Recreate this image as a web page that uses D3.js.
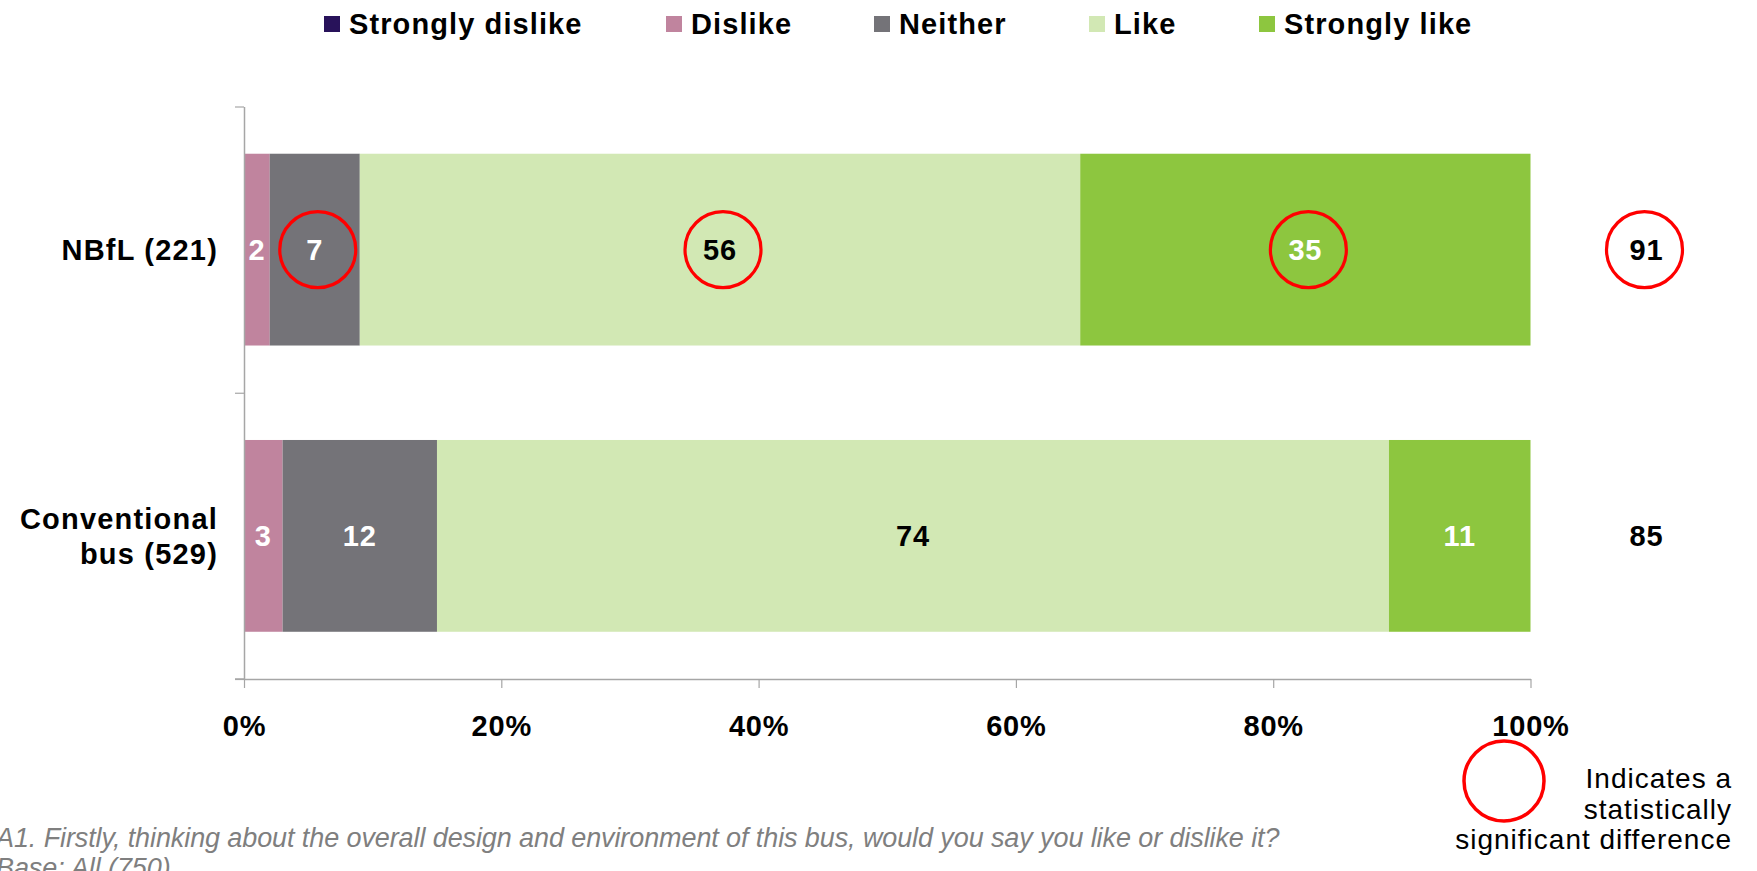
<!DOCTYPE html>
<html>
<head>
<meta charset="utf-8">
<script src="https://cdn.jsdelivr.net/npm/d3@7/dist/d3.min.js"></script>
<style>
  html, body { margin: 0; padding: 0; background: #fff; }
  svg { display: block; }
  text { font-family: "Liberation Sans", Arial, sans-serif; }
</style>
</head>
<body>
<svg id="chart" width="1757" height="871"></svg>
<script>
// Survey responses (%), one array per answer option
const categories = ["NBfL (221)", "Conventional bus (529)"];
const categoryLines = [["NBfL (221)"], ["Conventional", "bus (529)"]];
const seriesNames = ["Strongly dislike", "Dislike", "Neither", "Like", "Strongly like"];
const stronglyDislike = [0, 0];
const dislike = [2, 3];
const neither = [7, 12];
const like = [56, 74];
const stronglyLike = [35, 11];
// Net "like" totals shown to the right of each bar
const totals = [91, 85];
// Statistically significant differences, per series then total
const sigNeither = [true, false];
const sigLike = [true, false];
const sigStronglyLike = [true, false];
const sigTotal = [true, false];
const xTicks = [0, 20, 40, 60, 80, 100];
const xTickLabels = ["0%", "20%", "40%", "60%", "80%", "100%"];
const footnote = "A1. Firstly, thinking about the overall design and environment of this bus, would you say you like or dislike it?";
const baseNote = "Base: All (750)";
const sigLegend = ["Indicates a", "statistically", "significant difference"];

const colors = ["#28125a", "#c0849e", "#747378", "#d2e8b4", "#8dc63f"];
const labelColors = ["#fff", "#fff", "#fff", "#000", "#fff"];

const seriesValues = [stronglyDislike, dislike, neither, like, stronglyLike];
const seriesSig = [[false, false], [false, false], sigNeither, sigLike, sigStronglyLike];

const rows = categories.map((c, i) => {
  const r = { category: c };
  seriesNames.forEach((s, j) => { r[s] = seriesValues[j][i]; });
  return r;
});
const stacked = d3.stack().keys(seriesNames)(rows);

const svg = d3.select("#chart");

const plot = { left: 244, right: 1530.5, top: 106.5, bottom: 679 };

const x = d3.scaleLinear().domain([0, 100]).range([plot.left, plot.right]);
const y = d3.scaleBand().domain(categories).range([plot.top, plot.bottom])
  .paddingInner(0.33).paddingOuter(0.165);
const yEdges = d3.scaleLinear().domain([0, categories.length]).range([plot.top, plot.bottom]);

const BOLD = "bold";
const FS = 29;

// Bars
const layers = svg.append("g").selectAll("g").data(stacked).join("g")
  .attr("fill", (d, i) => colors[i]);
layers.selectAll("rect").data(d => d).join("rect")
  .attr("x", d => x(d[0]))
  .attr("y", (d, i) => y(categories[i]))
  .attr("width", d => x(d[1]) - x(d[0]))
  .attr("height", y.bandwidth());

// Axes
const axisColor = "#a6a6a6";
const yAxis = svg.append("g")
  .attr("transform", `translate(${plot.left},0)`)
  .call(d3.axisLeft(yEdges).tickValues(d3.range(categories.length + 1)).tickFormat("").tickSize(9).tickSizeOuter(0));
const xAxis = svg.append("g")
  .attr("transform", `translate(0,${plot.bottom})`)
  .call(d3.axisBottom(x).tickValues(xTicks).tickFormat((d, i) => xTickLabels[i]).tickSize(9).tickSizeOuter(0).tickPadding(27));
[yAxis, xAxis].forEach(a => {
  a.selectAll("path.domain").attr("stroke", axisColor).attr("stroke-width", 1.5);
  a.selectAll(".tick line").attr("stroke", axisColor).attr("stroke-width", 1.2);
});
xAxis.selectAll(".tick text")
  .attr("font-size", FS).attr("font-weight", BOLD).attr("fill", "#000")
  .attr("font-family", "Liberation Sans, Arial, sans-serif")
  .attr("letter-spacing", 0.8);
// extend the baseline to meet the lower y tick
xAxis.append("line").attr("x1", plot.left - 9).attr("x2", plot.left)
  .attr("stroke", axisColor).attr("stroke-width", 1.5);

// Category labels
categories.forEach((c, i) => {
  const lines = categoryLines[i];
  const cy = y(c) + y.bandwidth() / 2;
  const lh = 35.5;
  const t = svg.append("text")
    .attr("text-anchor", "end")
    .attr("font-size", FS).attr("font-weight", BOLD)
    .attr("letter-spacing", 1.2);
  lines.forEach((ln, k) => {
    t.append("tspan").attr("x", plot.left - 26)
      .attr("y", cy + (k - (lines.length - 1) / 2) * lh)
      .attr("dy", "0.36em").text(ln);
  });
});

// Segment value labels and significance rings
const RING = 38;
stacked.forEach((layer, j) => {
  layer.forEach((d, i) => {
    const v = d[1] - d[0];
    if (v <= 0) return;
    const cx = x((d[0] + d[1]) / 2);
    const cy = y(categories[i]) + y.bandwidth() / 2;
    svg.append("text")
      .attr("x", cx).attr("y", cy).attr("dy", "0.36em")
      .attr("text-anchor", "middle")
      .attr("font-size", FS).attr("font-weight", BOLD)
      .attr("letter-spacing", 0.8)
      .attr("fill", labelColors[j])
      .text(v);
    if (seriesSig[j][i]) {
      svg.append("circle").attr("cx", cx + 3).attr("cy", cy).attr("r", RING)
        .attr("fill", "none").attr("stroke", "#ff0000").attr("stroke-width", 3.2);
    }
  });
});

// Totals
totals.forEach((t, i) => {
  const cx = x(100) + 116;
  const cy = y(categories[i]) + y.bandwidth() / 2;
  svg.append("text").attr("x", cx).attr("y", cy).attr("dy", "0.36em")
    .attr("text-anchor", "middle")
    .attr("font-size", FS).attr("font-weight", BOLD).attr("letter-spacing", 0.8)
    .attr("fill", "#000").text(t);
  if (sigTotal[i]) {
    svg.append("circle").attr("cx", cx - 2).attr("cy", cy).attr("r", RING)
      .attr("fill", "none").attr("stroke", "#ff0000").attr("stroke-width", 3.2);
  }
});

// Legend
const legendX = [324, 666, 874, 1089, 1259];
const legend = svg.append("g");
seriesNames.forEach((s, i) => {
  legend.append("rect").attr("x", legendX[i]).attr("y", 16).attr("width", 16).attr("height", 16)
    .attr("fill", colors[i]);
  legend.append("text").attr("x", legendX[i] + 25).attr("y", 34)
    .attr("font-size", FS).attr("font-weight", BOLD).attr("letter-spacing", 1.1)
    .text(s);
});

// Significance key
svg.append("circle").attr("cx", 1504).attr("cy", 781).attr("r", 40)
  .attr("fill", "none").attr("stroke", "#ff0000").attr("stroke-width", 3.5);
sigLegend.forEach((ln, k) => {
  svg.append("text").attr("x", 1732).attr("y", 788 + k * 30.5)
    .attr("text-anchor", "end").attr("font-size", 28).attr("letter-spacing", 1)
    .attr("fill", "#000").text(ln);
});

// Footnotes
svg.append("text").attr("x", -4).attr("y", 847)
  .attr("font-size", 27).attr("font-style", "italic").attr("fill", "#7f7f7f")
  .attr("letter-spacing", -0.1)
  .text(footnote);
svg.append("text").attr("x", -4).attr("y", 877)
  .attr("font-size", 27).attr("font-style", "italic").attr("fill", "#7f7f7f")
  .attr("letter-spacing", -0.1)
  .text(baseNote);
</script>
</body>
</html>
